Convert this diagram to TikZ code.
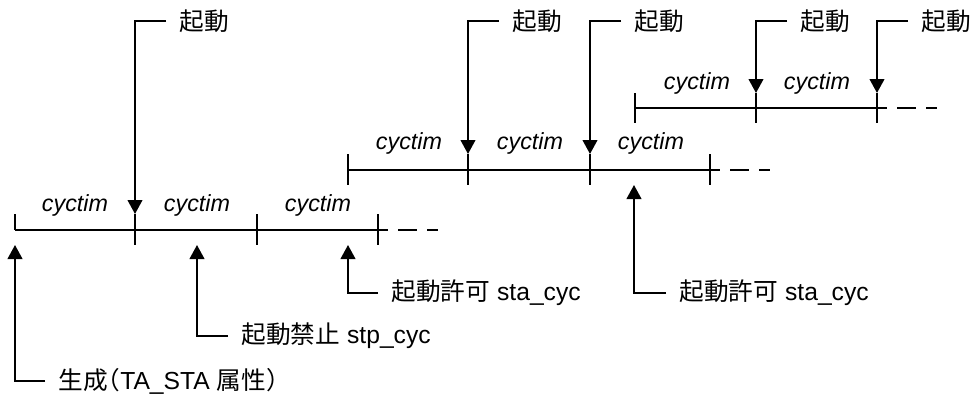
\documentclass[tikz,border=0pt]{standalone}
\usepackage{fontspec}
\setmainfont{Liberation Sans}
\newfontfamily\jp{Noto Sans CJK JP}
\usetikzlibrary{arrows.meta}

\tikzset{
  axis/.style={line width=1.5pt},
  tail/.style={line width=1.5pt, dash pattern=on 14.25pt off 7.5pt},
  trig/.style={line width=1.5pt, -{Triangle[width=11pt,length=10.5pt]}},
  lbl/.style={anchor=west, inner xsep=10pt, inner ysep=0pt, font=\fontsize{18.5}{21}\selectfont},
  cyc/.style={font=\fontsize{17.5}{20}\selectfont\itshape},
}

\begin{document}
\begin{tikzpicture}[x=0.75pt, y=-0.75pt]
      \useasboundingbox (0,0) rectangle (971,396);
      % Define nodes
      \coordinate (l1s) at (15,230);  \coordinate (l1e) at (378,230);
      \coordinate (l2s) at (348,170); \coordinate (l2e) at (710,170);
      \coordinate (l3s) at (635,108); \coordinate (l3e) at (877,108);
      \coordinate (a1) at (135,214);
      \coordinate (a2) at (468,154);
      \coordinate (a3) at (590,154);
      \coordinate (a4) at (756,93);
      \coordinate (a5) at (877,93);
      \coordinate (b1) at (15,245);
      \coordinate (b2) at (197,245);
      \coordinate (b3) at (348,245);
      \coordinate (b4) at (634,185);
      \node[lbl] (k1) at (166,21) {\jp 起動};
      \node[lbl] (k2) at (499,21) {\jp 起動};
      \node[lbl] (k3) at (621,21) {\jp 起動};
      \node[lbl] (k4) at (787,21) {\jp 起動};
      \node[lbl] (k5) at (908,21) {\jp 起動};
      \node[lbl] (p1) at (45,381) {{\jp 生成\kern-0.5em（}TA\_STA {\jp 属性）}};
      \node[lbl] (p2) at (228,336) {{\jp 起動禁止} stp\_cyc};
      \node[lbl] (p3) at (378,293) {{\jp 起動許可} sta\_cyc};
      \node[lbl] (p4) at (666,293) {{\jp 起動許可} sta\_cyc};
      \node[cyc] (c1) at (75,205) {cyctim};
      \node[cyc] (c2) at (197,205) {cyctim};
      \node[cyc] (c3) at (318,205) {cyctim};
      \node[cyc] (c4) at (409,143) {cyctim};
      \node[cyc] (c5) at (530,143) {cyctim};
      \node[cyc] (c6) at (651,143) {cyctim};
      \node[cyc] (c7) at (697,83) {cyctim};
      \node[cyc] (c8) at (817,83) {cyctim};
      % Time lines
      \draw[axis] (l1s) -- ([xshift=7.5pt]l1e);
      \draw[tail] ([xshift=15pt]l1e) -- ([xshift=45pt]l1e);
      \draw[axis] (l2s) -- ([xshift=7.5pt]l2e);
      \draw[tail] ([xshift=15pt]l2e) -- ([xshift=45pt]l2e);
      \draw[axis] (l3s) -- ([xshift=7.5pt]l3e);
      \draw[tail] ([xshift=15pt]l3e) -- ([xshift=45pt]l3e);
      \draw[axis] (15,214) -- (l1s);
      \foreach \x in {135,257,378} \draw[axis] (\x,214) -- (\x,245);
      \foreach \x in {348,468,590,710} \draw[axis] (\x,154) -- (\x,185);
      \foreach \x in {635,756,877} \draw[axis] (\x,93) -- (\x,123);
      % Connect nodes
      \draw[trig] (k1.west) -| (a1);
      \draw[trig] (k2.west) -| (a2);
      \draw[trig] (k3.west) -| (a3);
      \draw[trig] (k4.west) -| (a4);
      \draw[trig] (k5.west) -| (a5);
      \draw[trig] (p1.west) -| (b1);
      \draw[trig] (p2.west) -| (b2);
      \draw[trig] (p3.west) -| (b3);
      \draw[trig] (p4.west) -| (b4);
\end{tikzpicture}
\end{document}
